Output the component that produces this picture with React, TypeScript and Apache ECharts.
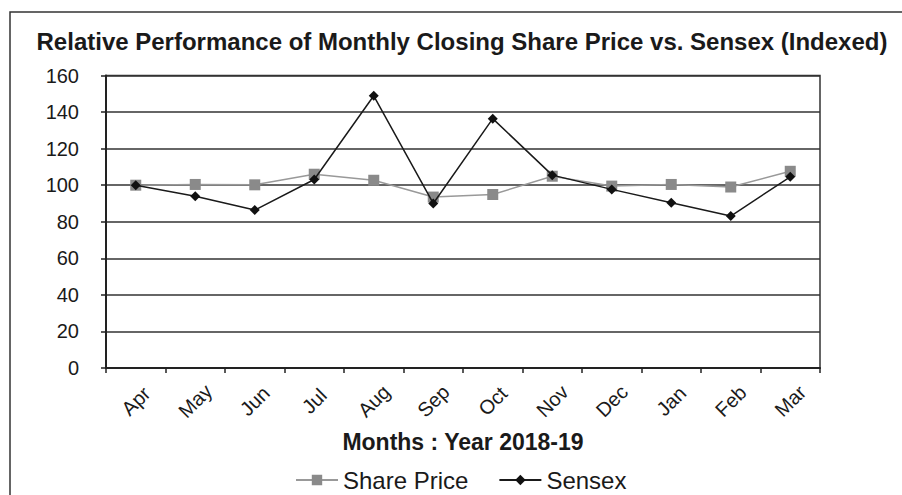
import React, { useEffect, useRef } from "react";
import * as echarts from "echarts";

const months = ["Apr", "May", "Jun", "Jul", "Aug", "Sep", "Oct", "Nov", "Dec", "Jan", "Feb", "Mar"];
const sharePrice = [100, 100.4, 100.2, 106, 102.7, 93.5, 94.9, 104.9, 99.5, 100.4, 99, 107.6];
const sensex = [100, 94, 86.4, 103.1, 148.9, 90, 136.4, 105.5, 97.7, 90.4, 83.1, 104.6];
const titleText = "Relative Performance of Monthly Closing Share Price vs. Sensex (Indexed)";
const xAxisTitle = "Months : Year 2018-19";

const FONT = "'Liberation Sans', Arial, Helvetica, sans-serif";

export default function App() {
  const ref = useRef<HTMLDivElement>(null);
  useEffect(() => {
    document.body.style.margin = "0";
    if (!ref.current) return;
    const chart = echarts.init(ref.current, null, { renderer: "svg" });
    chart.setOption({
      animation: false,
      backgroundColor: "#ffffff",
      textStyle: { fontFamily: FONT },
      graphic: [
        {
          type: "rect",
          z: -1,
          shape: { x: 10, y: 12, width: 1000, height: 1000 },
          style: { fill: "none", stroke: "#333", lineWidth: 1.5 },
        },
        {
          type: "text",
          x: 462,
          y: 41,
          style: {
            text: titleText,
            fontFamily: FONT,
            fontSize: 24,
            fontWeight: "bold",
            fill: "#1a1a1a",
            textAlign: "center",
            textVerticalAlign: "middle",
          },
        },
      ],
      grid: {
        left: 106,
        right: 82,
        top: 75.5,
        bottom: 127,
        containLabel: false,
        show: true,
        borderColor: "#333",
        borderWidth: 1.5,
      },
      legend: {
        left: 290,
        top: 463,
        itemWidth: 42,
        itemHeight: 13,
        itemGap: 30,
        textStyle: { fontSize: 24, color: "#1a1a1a", fontFamily: FONT },
        data: ["Share Price", "Sensex"],
      },
      xAxis: {
        type: "category",
        data: months,
        boundaryGap: true,
        name: xAxisTitle,
        nameLocation: "middle",
        nameGap: 62,
        nameTextStyle: { fontSize: 23, fontWeight: "bold", color: "#1a1a1a", fontFamily: FONT },
        axisLine: { lineStyle: { color: "#222", width: 2 } },
        axisTick: { show: true, length: 5, lineStyle: { color: "#222", width: 1.5 } },
        axisLabel: {
          rotate: 45,
          fontSize: 20,
          color: "#1a1a1a",
          margin: 33,
          align: "center",
          verticalAlign: "middle",
          interval: 0,
        },
        splitLine: { show: false },
      },
      yAxis: {
        type: "value",
        min: 0,
        max: 160,
        interval: 20,
        axisLine: { show: true, lineStyle: { color: "#222", width: 2 } },
        axisTick: { show: true, length: 5, lineStyle: { color: "#222", width: 1.5 } },
        axisLabel: { fontSize: 20, color: "#1a1a1a", margin: 27 },
        splitLine: { show: true, lineStyle: { color: "#333", width: 1.5 } },
      },
      series: [
        {
          name: "Share Price",
          type: "line",
          data: sharePrice,
          symbol: "rect",
          symbolSize: 11,
          lineStyle: { color: "#999", width: 1.5 },
          itemStyle: { color: "#8a8a8a" },
          z: 2,
        },
        {
          name: "Sensex",
          type: "line",
          data: sensex,
          symbol: "diamond",
          symbolSize: 10,
          lineStyle: { color: "#1a1a1a", width: 1.5 },
          itemStyle: { color: "#111" },
          z: 3,
        },
      ],
    });
    return () => chart.dispose();
  }, []);
  return <div ref={ref} style={{ width: 902, height: 495 }} />;
}
